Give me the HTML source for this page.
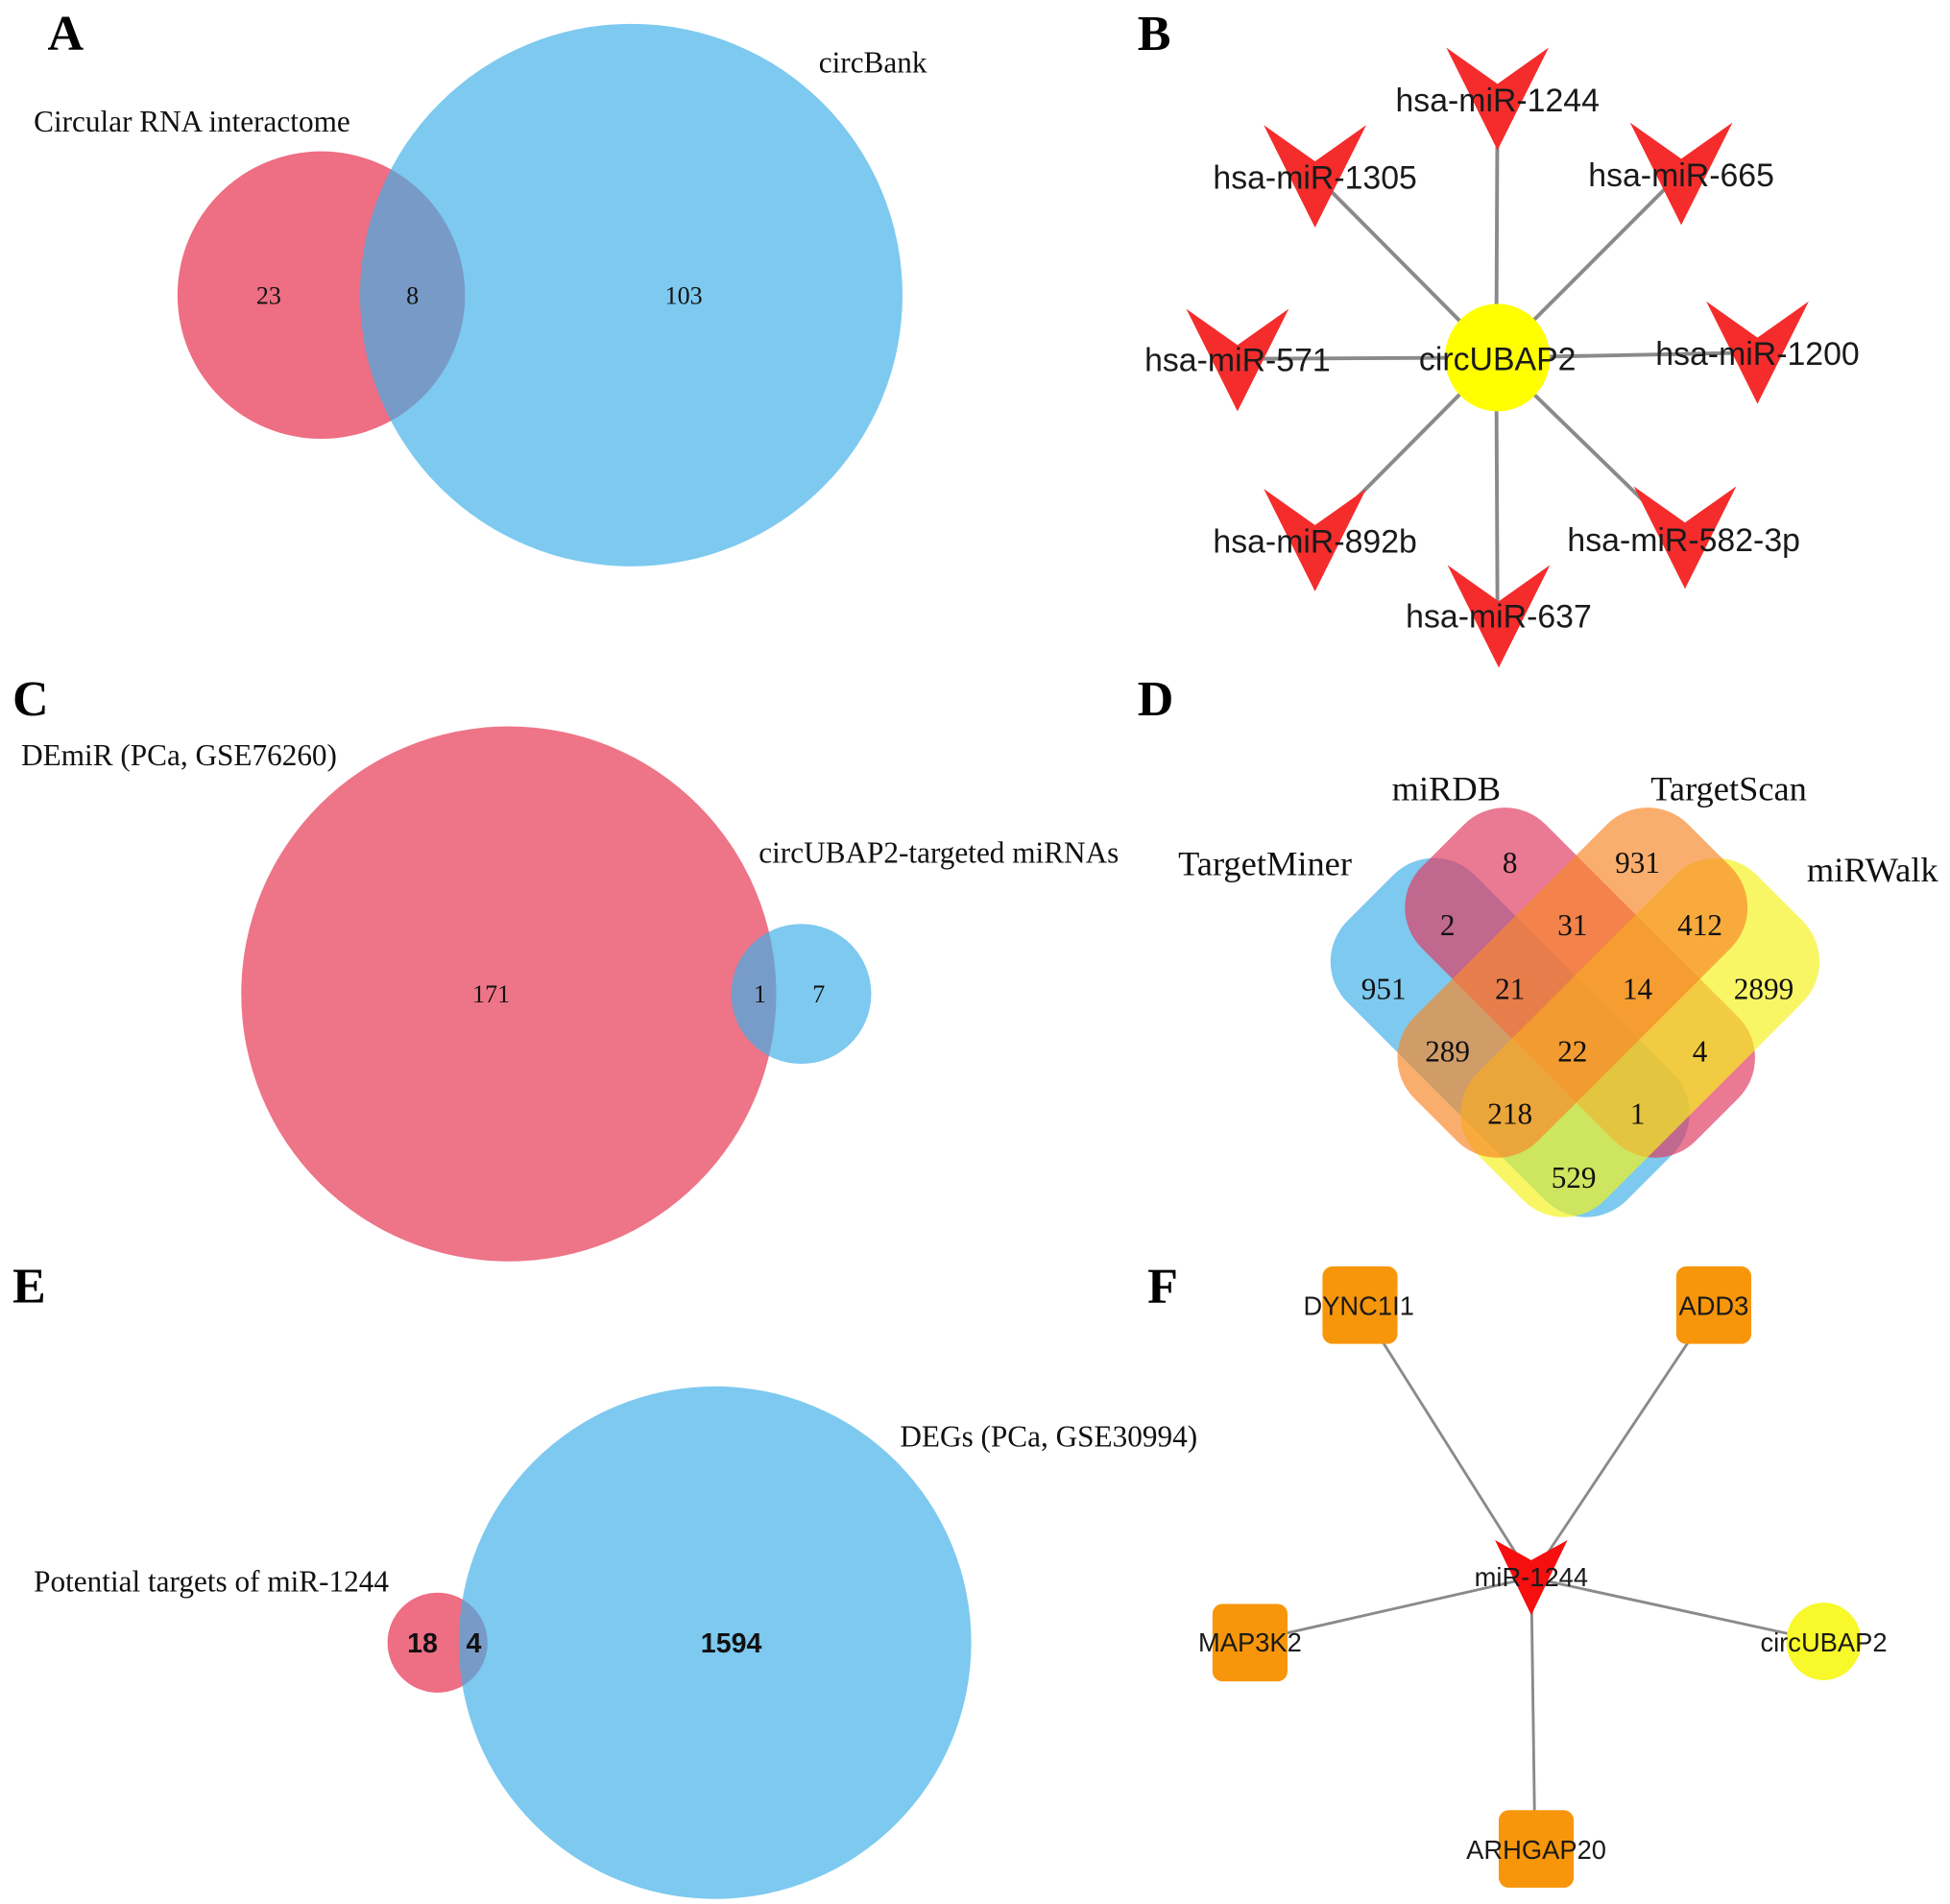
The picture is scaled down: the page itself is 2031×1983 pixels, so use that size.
<!DOCTYPE html>
<html><head><meta charset="utf-8"><style>
html,body{margin:0;padding:0;background:#fff}
svg{display:block}
.s{font-family:"Liberation Serif",serif;fill:#111}
.a{font-family:"Liberation Sans",sans-serif;fill:#1a1a1a}
.L{font-family:"Liberation Serif",serif;font-weight:bold;font-size:40px;fill:#000}
</style></head><body>
<svg width="2031" height="1983" viewBox="0 0 1560 1523" xmlns="http://www.w3.org/2000/svg">
<defs>
<polygon id="v" points="-41,-42 0,-13 41,-42 0,40" fill="#f52c2c"/>
</defs>
<rect width="1560" height="1523" fill="#fff"/>
<!-- Panel A -->
<text class="L" x="38" y="40">A</text>
<circle cx="257" cy="236" r="115" fill="#e83e5a" opacity="0.75"/>
<circle cx="505" cy="236" r="217" fill="#3fb0e8" opacity="0.68"/>
<text class="s" x="27" y="105" font-size="24">Circular RNA interactome</text>
<text class="s" x="655" y="58" font-size="24">circBank</text>
<text class="s" x="215" y="243" font-size="20" text-anchor="middle">23</text>
<text class="s" x="330" y="243" font-size="20" text-anchor="middle">8</text>
<text class="s" x="547" y="243" font-size="20" text-anchor="middle">103</text>

<!-- Panel B -->
<text class="L" x="910" y="40">B</text>
<g stroke="#8a8a8a" stroke-width="3">
<line x1="1197" y1="286" x2="1198" y2="75"/>
<line x1="1197" y1="286" x2="1052" y2="140"/>
<line x1="1197" y1="286" x2="1345" y2="138"/>
<line x1="1197" y1="286" x2="990" y2="287"/>
<line x1="1197" y1="286" x2="1405" y2="282"/>
<line x1="1197" y1="286" x2="1052" y2="432"/>
<line x1="1197" y1="286" x2="1345" y2="430"/>
<line x1="1197" y1="286" x2="1198" y2="492"/>
</g>
<use href="#v" x="1198" y="80"/>
<use href="#v" x="1052" y="142"/>
<use href="#v" x="1345" y="140"/>
<use href="#v" x="990" y="289"/>
<use href="#v" x="1406" y="283"/>
<use href="#v" x="1052" y="433"/>
<use href="#v" x="1348" y="431"/>
<use href="#v" x="1199" y="494"/>
<ellipse cx="1198" cy="286" rx="42" ry="43" fill="#ffff00"/>
<g class="a" font-size="26" text-anchor="middle">
<text x="1198" y="89">hsa-miR-1244</text>
<text x="1052" y="151">hsa-miR-1305</text>
<text x="1345" y="149">hsa-miR-665</text>
<text x="990" y="297">hsa-miR-571</text>
<text x="1198" y="296">circUBAP2</text>
<text x="1406" y="292">hsa-miR-1200</text>
<text x="1052" y="442">hsa-miR-892b</text>
<text x="1347" y="441">hsa-miR-582-3p</text>
<text x="1199" y="502">hsa-miR-637</text>
</g>

<!-- Panel C -->
<text class="L" x="10" y="572">C</text>
<circle cx="407" cy="795" r="214" fill="#e83e5a" opacity="0.72"/>
<circle cx="641" cy="795" r="56" fill="#3fb0e8" opacity="0.68"/>
<text class="s" x="17" y="612" font-size="24">DEmiR (PCa, GSE76260)</text>
<text class="s" x="607" y="690" font-size="24">circUBAP2-targeted miRNAs</text>
<text class="s" x="393" y="802" font-size="20" text-anchor="middle">171</text>
<text class="s" x="608" y="802" font-size="20" text-anchor="middle">1</text>
<text class="s" x="655" y="802" font-size="20" text-anchor="middle">7</text>

<!-- Panel D -->
<text class="L" x="910" y="572">D</text>
<rect x="-158" y="-72" width="316" height="144" rx="46" fill="#3fb0e8" opacity="0.68" transform="translate(1208,830) rotate(45)"/>
<rect x="-155" y="-70" width="310" height="140" rx="46" fill="#e03a60" opacity="0.68" transform="translate(1264,786) rotate(45)"/>
<rect x="-158" y="-72" width="316" height="144" rx="46" fill="#f5f21a" opacity="0.68" transform="translate(1312,830) rotate(-45)"/>
<rect x="-155" y="-70" width="310" height="140" rx="46" fill="#f7882a" opacity="0.68" transform="translate(1258,786) rotate(-45)"/>
<g class="s" font-size="28" text-anchor="middle">
<text x="1157" y="640">miRDB</text>
<text x="1383" y="640">TargetScan</text>
<text x="1012" y="700">TargetMiner</text>
<text x="1498" y="705">miRWalk</text>
</g>
<g class="s" font-size="24" text-anchor="middle">
<text x="1208" y="698">8</text>
<text x="1310" y="698">931</text>
<text x="1158" y="748">2</text>
<text x="1258" y="748">31</text>
<text x="1360" y="748">412</text>
<text x="1107" y="799">951</text>
<text x="1208" y="799">21</text>
<text x="1310" y="799">14</text>
<text x="1411" y="799">2899</text>
<text x="1158" y="849">289</text>
<text x="1258" y="849">22</text>
<text x="1360" y="849">4</text>
<text x="1208" y="899">218</text>
<text x="1310" y="899">1</text>
<text x="1259" y="950">529</text>
</g>

<!-- Panel E -->
<text class="L" x="10" y="1042">E</text>
<circle cx="350" cy="1314" r="40" fill="#e83e5a" opacity="0.75"/>
<circle cx="572" cy="1314" r="205" fill="#3fb0e8" opacity="0.68"/>
<text class="s" x="27" y="1273" font-size="24">Potential targets of miR-1244</text>
<text class="s" x="720" y="1157" font-size="24">DEGs (PCa, GSE30994)</text>
<g font-family="Liberation Sans,sans-serif" font-weight="bold" font-size="22" fill="#111" text-anchor="middle">
<text x="338" y="1322">18</text>
<text x="379" y="1322">4</text>
<text x="585" y="1322">1594</text>
</g>

<!-- Panel F -->
<text class="L" x="918" y="1042">F</text>
<g stroke="#8a8a8a" stroke-width="2.2">
<line x1="1225" y1="1262" x2="1087" y2="1043"/>
<line x1="1225" y1="1262" x2="1371" y2="1043"/>
<line x1="1225" y1="1262" x2="1000" y2="1313"/>
<line x1="1225" y1="1262" x2="1459" y2="1313"/>
<line x1="1225" y1="1262" x2="1228" y2="1478"/>
</g>
<polygon points="-29,-30 0,-14 29,-30 0,30" fill="#f50f0f" transform="translate(1225,1262)"/>
<g fill="#f7960a">
<rect x="1058" y="1013" width="60" height="62" rx="8"/>
<rect x="1341" y="1013" width="60" height="62" rx="8"/>
<rect x="970" y="1283" width="60" height="62" rx="8"/>
<rect x="1199" y="1448" width="60" height="62" rx="8"/>
</g>
<ellipse cx="1459" cy="1313" rx="30" ry="31" fill="#f8f82a"/>
<g class="a" font-size="21" text-anchor="middle">
<text x="1087" y="1052">DYNC1I1</text>
<text x="1371" y="1052">ADD3</text>
<text x="1225" y="1269">miR-1244</text>
<text x="1000" y="1321">MAP3K2</text>
<text x="1459" y="1321">circUBAP2</text>
<text x="1229" y="1487">ARHGAP20</text>
</g>
</svg>
</body></html>
